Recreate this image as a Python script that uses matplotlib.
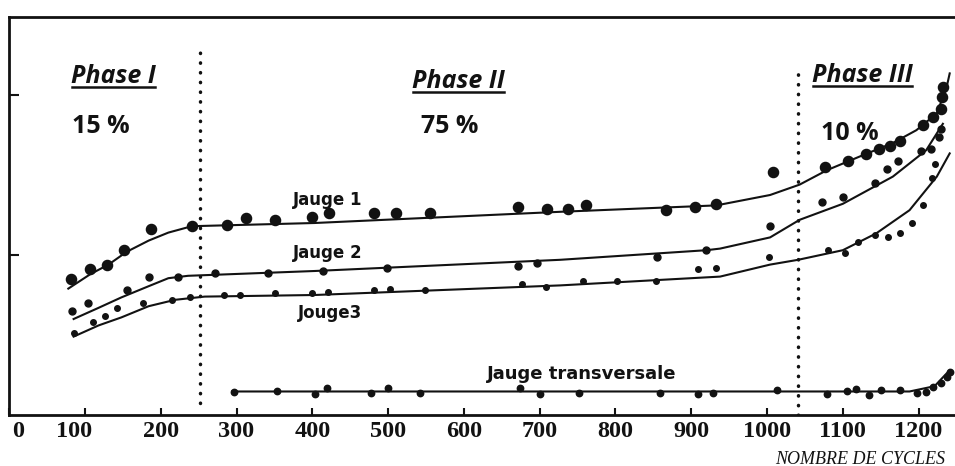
import matplotlib
matplotlib.use("Agg")
import matplotlib.pyplot as plt
from matplotlib.lines import Line2D
from matplotlib.transforms import ScaledTranslation

# ---------------- data ----------------
# Jauge 1 : measured points and fitted curve
j1_x = [82, 106, 129, 152, 187, 241, 287, 313, 351, 399, 422, 481, 510, 555,
        672, 709, 738, 761, 866, 905, 933, 1008, 1077, 1107, 1130, 1148, 1162,
        1175, 1206, 1219, 1230, 1231, 1232]
j1_y = [0.85, 0.91, 0.94, 1.03, 1.16, 1.18, 1.19, 1.23, 1.22, 1.24, 1.26, 1.26,
        1.26, 1.26, 1.30, 1.29, 1.29, 1.31, 1.28, 1.30, 1.32, 1.52, 1.55, 1.59,
        1.63, 1.66, 1.68, 1.71, 1.81, 1.86, 1.91, 1.99, 2.05]
fit1_x = [78, 107, 131, 155, 184, 210, 241, 403, 727, 933, 1004, 1043, 1079,
          1122, 1166, 1197, 1224, 1237, 1241]
fit1_y = [0.79, 0.88, 0.94, 1.02, 1.09, 1.14, 1.18, 1.20, 1.27, 1.31, 1.375,
          1.44, 1.53, 1.615, 1.70, 1.78, 1.885, 2.05, 2.135]

# Jauge 2
j2_x = [83, 104, 156, 184, 223, 272, 342, 414, 499, 672, 697, 855, 919, 1004,
        1073, 1100, 1142, 1158, 1173, 1203, 1216, 1227, 1230]
j2_y = [0.65, 0.70, 0.78, 0.86, 0.86, 0.89, 0.89, 0.90, 0.92, 0.93, 0.95, 0.99,
        1.03, 1.18, 1.33, 1.36, 1.45, 1.54, 1.59, 1.65, 1.66, 1.74, 1.79]
fit2_x = [85, 118, 148, 184, 210, 236, 403, 727, 920, 938, 1004, 1043, 1100,
          1166, 1210, 1232]
fit2_y = [0.60, 0.67, 0.735, 0.805, 0.855, 0.87, 0.90, 0.97, 1.03, 1.04, 1.11,
          1.22, 1.32, 1.49, 1.655, 1.82]

# Jauge 3
j3_x = [86, 110, 126, 142, 176, 215, 239, 283, 305, 351, 399, 421, 481, 502,
        549, 676, 708, 757, 802, 853, 909, 933, 1002, 1081, 1103, 1120, 1142,
        1160, 1175, 1191, 1206, 1217, 1222]
j3_y = [0.51, 0.58, 0.62, 0.67, 0.70, 0.72, 0.74, 0.75, 0.75, 0.76, 0.76, 0.77,
        0.78, 0.79, 0.78, 0.82, 0.80, 0.84, 0.84, 0.84, 0.91, 0.92, 0.99, 1.03,
        1.01, 1.08, 1.125, 1.11, 1.14, 1.20, 1.31, 1.48, 1.57]
fit3_x = [85, 118, 148, 184, 219, 258, 403, 727, 938, 1004, 1041, 1100, 1144,
          1188, 1224, 1241]
fit3_y = [0.49, 0.56, 0.61, 0.68, 0.72, 0.74, 0.75, 0.81, 0.865, 0.94, 0.97,
          1.03, 1.135, 1.28, 1.49, 1.635]

# Jauge transversale
jt_x = [297, 353, 403, 419, 478, 500, 542, 674, 700, 752, 859, 909, 929, 1013,
        1079, 1105, 1118, 1135, 1151, 1175, 1198, 1210, 1219, 1229, 1237, 1241]
jt_y = [0.146, 0.15, 0.13, 0.17, 0.136, 0.17, 0.14, 0.167, 0.13, 0.136, 0.14,
        0.13, 0.136, 0.156, 0.13, 0.15, 0.16, 0.125, 0.156, 0.156, 0.136, 0.146,
        0.177, 0.198, 0.24, 0.27]
fitt_x = [294, 1188, 1221, 1241]
fitt_y = [0.147, 0.147, 0.18, 0.28]

# phases
phase_bounds = [252, 1041]
phase_names = ["Phase I", "Phase II", "Phase III"]
phase_shares = ["15 %", "75 %", "10 %"]

x_ticks = [0, 100, 200, 300, 400, 500, 600, 700, 800, 900, 1000, 1100, 1200]
x_labels = ["0", "100", "200", "300", "400", "500", "600", "700", "800", "900",
            "1000", "1100", "1200"]
y_ticks = [1, 2]
x_title = "NOMBRE DE CYCLES"

# ---------------- figure ----------------
W, H = 955, 466
ink = "#121212"
fig = plt.figure(figsize=(W / 100, H / 100), dpi=100)
ax = fig.add_axes([9.2 / W, (H - 415) / H, (W - 9.2) / W, 398 / H])
ax.set_xlim(0, 1248)
ax.set_ylim(0, 2.4875)

# curves and points
ax.plot(fit1_x, fit1_y, color=ink, lw=1.5, zorder=2)
ax.plot(j1_x, j1_y, "o", color=ink, ms=7.3, zorder=3)
ax.plot(fit2_x, fit2_y, color=ink, lw=1.5, zorder=2)
ax.plot(j2_x, j2_y, "o", color=ink, ms=5, zorder=3)
ax.plot(fit3_x, fit3_y, color=ink, lw=1.5, zorder=2)
ax.plot(j3_x, j3_y, "o", color=ink, ms=4, zorder=3)
ax.plot(fitt_x, fitt_y, color=ink, lw=1.5, zorder=2)
ax.plot(jt_x, jt_y, "o", color=ink, ms=4.6, zorder=3)

# phase boundaries (dotted)
ax.plot([phase_bounds[0]] * 2, [0.075, 2.29], color=ink, lw=2.5,
        ls=(0, (0.1, 2.7)), dash_capstyle="round", zorder=4)
ax.plot([phase_bounds[1]] * 2, [0.0, 2.17], color=ink, lw=2.5,
        ls=(0, (0.1, 2.7)), dash_capstyle="round", zorder=4)

# curve labels
lab_kw = dict(family="DejaVu Sans", color=ink, va="baseline", ha="left")
ax.text(375, 1.3125, "Jauge 1", fontsize=12, fontweight="bold", **lab_kw)
ax.text(375, 0.98, "Jauge 2", fontsize=12, fontweight="bold", **lab_kw)
ax.text(381, 0.606, "Jouge3", fontsize=12, fontweight="bold", **lab_kw)
ax.text(630, 0.225, "Jauge transversale", fontsize=13, fontweight="bold", **lab_kw)

# phase annotations
ph_font = dict(family="Open Sans", style="italic", fontweight="bold",
               color=ink, ha="center", va="baseline")
ph_pos = [(138, 2.075), (593, 2.044), (1126, 2.081)]
pct_pos = [(121, 1.7625), (581, 1.7625), (1109, 1.72)]
ph_texts = []
for (px, py), name in zip(ph_pos, phase_names):
    ph_texts.append((ax.text(px, py, name, fontsize=18, **ph_font), px, py))
for (px, py), s in zip(pct_pos, phase_shares):
    ax.text(px, py, s, fontsize=18, family="Open Sans",
            fontweight="bold", color=ink, ha="center", va="baseline")

# axes styling
for side in ["top", "left", "bottom"]:
    ax.spines[side].set_linewidth(2.0)
    ax.spines[side].set_color(ink)
ax.spines["right"].set_visible(False)
ax.set_xticks(x_ticks)
ax.set_xticklabels(x_labels, family="Liberation Serif", fontsize=17.5,
                   fontweight="bold", color=ink)
ax.set_yticks(y_ticks)
ax.set_yticklabels([])
ax.tick_params(axis="x", direction="in", length=5, width=1.5, pad=4,
               colors=ink)
ax.tick_params(axis="y", direction="in", length=7, width=1.5, colors=ink)

# small shifts of the first labels as in the original drawing
lbls = ax.get_xticklabels()
lbls[0].set_transform(lbls[0].get_transform() +
                      ScaledTranslation(9 / 100, 0, fig.dpi_scale_trans))
lbls[1].set_transform(lbls[1].get_transform() +
                      ScaledTranslation(-11 / 100, 0, fig.dpi_scale_trans))

fig.text(945 / W, 2.5 / H, x_title, family="Liberation Serif", style="italic",
         fontsize=13, color=ink, ha="right", va="baseline")

# underline phase titles
fig.canvas.draw()
r = fig.canvas.get_renderer()
for t, px, py in ph_texts:
    bb = t.get_window_extent(r)
    base = ax.transData.transform((px, py))[1]
    yl = (base - 4) / H
    fig.add_artist(Line2D([(bb.x0 + 1) / W, (bb.x1 - 1) / W], [yl, yl],
                          transform=fig.transFigure, color=ink, lw=1.8))

fig.savefig("out.png", dpi=100, facecolor="white")
